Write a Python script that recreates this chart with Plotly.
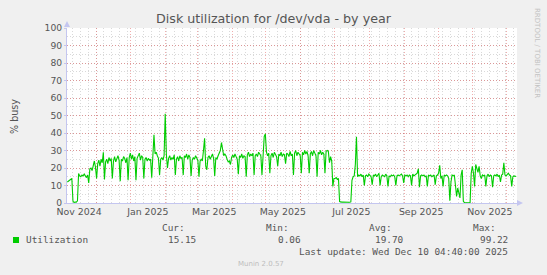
import pandas as pd
import plotly.graph_objects as go

# ---------------- data (daily averages, % busy) ----------------
range_start = "2024-11-05 04:40"
range_end = "2025-12-10 04:40"
first_day = "2024-11-05 12:00"

weeks = [
    [12.0, 12.5, 13.0, 13.5, 14.0, 1.0, 0.3],
    [0.6, 0.5, 1.2, 16.8, 15.5, 15.0, 16.0],
    [15.5, 16.5, 15.0, 14.5, 16.0, 11.5, 19.5],
    [20.0, 18.5, 21.0, 24.0, 20.5, 14.0, 22.5],
    [24.5, 21.0, 25.0, 23.0, 29.0, 13.5, 23.5],
    [25.0, 22.5, 26.0, 24.0, 25.5, 14.0, 24.0],
    [26.5, 23.5, 25.0, 27.0, 24.5, 12.5, 25.0],
    [24.0, 26.5, 25.5, 23.0, 26.0, 13.0, 26.0],
    [28.5, 25.0, 27.5, 24.0, 26.5, 13.0, 25.5],
    [27.0, 28.5, 24.5, 27.0, 26.0, 14.0, 25.0],
    [26.0, 24.0, 25.5, 24.5, 25.0, 14.5, 26.0],
    [39.0, 28.0, 29.0, 27.0, 25.5, 16.0, 25.0],
    [26.0, 24.5, 27.0, 51.0, 28.0, 20.0, 25.5],
    [27.0, 24.5, 26.0, 25.0, 27.5, 16.0, 25.0],
    [26.5, 24.0, 27.0, 25.5, 26.0, 16.0, 27.0],
    [26.0, 28.0, 25.0, 27.5, 26.0, 15.5, 24.5],
    [26.0, 25.0, 27.0, 26.0, 24.5, 15.0, 24.0],
    [25.0, 24.0, 30.0, 37.0, 21.0, 19.0, 26.0],
    [27.0, 25.0, 26.5, 28.0, 25.5, 15.5, 26.0],
    [25.0, 27.0, 28.5, 30.0, 34.5, 29.0, 27.0],
    [28.0, 27.0, 25.0, 23.5, 24.0, 22.0, 26.0],
    [27.5, 26.0, 28.0, 26.5, 25.0, 16.5, 27.0],
    [26.0, 28.0, 25.5, 27.0, 26.5, 15.0, 27.5],
    [29.0, 26.5, 28.0, 27.0, 28.5, 16.0, 27.0],
    [28.0, 26.5, 29.0, 27.5, 27.0, 16.0, 30.0],
    [38.0, 39.5, 29.0, 27.0, 28.5, 17.0, 27.0],
    [28.5, 26.0, 29.0, 27.5, 26.5, 21.0, 28.0],
    [27.0, 29.0, 26.5, 28.0, 27.5, 22.5, 28.5],
    [28.0, 26.5, 29.5, 27.0, 28.0, 16.0, 28.5],
    [30.0, 27.0, 29.0, 28.0, 27.0, 17.0, 29.0],
    [27.5, 30.0, 28.0, 29.5, 27.0, 17.0, 28.0],
    [29.5, 27.0, 30.0, 28.5, 27.0, 15.0, 29.0],
    [28.0, 30.0, 27.5, 29.0, 28.0, 17.0, 29.5],
    [30.0, 29.5, 23.0, 26.5, 24.0, 9.5, 14.0],
    [14.0, 14.5, 13.5, 14.0, 0.8, 0.4, 0.5],
    [0.6, 0.5, 0.4, 0.5, 0.6, 0.5, 0.4],
    [0.6, 13.0, 15.0, 15.5, 22.0, 37.8, 15.0],
    [16.0, 15.5, 16.5, 15.0, 16.0, 10.0, 15.5],
    [16.0, 15.0, 16.5, 15.5, 15.0, 10.5, 16.0],
    [15.5, 16.5, 15.0, 16.0, 17.0, 10.0, 15.0],
    [16.0, 15.5, 15.0, 16.5, 15.5, 9.5, 15.5],
    [15.0, 16.0, 15.5, 16.0, 15.0, 10.0, 15.5],
    [16.0, 15.5, 16.0, 16.5, 15.5, 11.5, 16.0],
    [15.5, 16.0, 15.0, 16.0, 15.5, 10.0, 16.5],
    [15.5, 16.0, 16.5, 17.0, 19.5, 9.0, 15.5],
    [16.0, 15.5, 16.0, 15.0, 15.5, 9.5, 16.0],
    [15.5, 16.0, 15.0, 15.5, 16.0, 10.5, 15.5],
    [16.0, 17.0, 21.5, 14.0, 15.5, 9.5, 16.0],
    [15.5, 16.0, 15.5, 14.0, 1.3, 12.0, 16.0],
    [15.5, 16.0, 10.0, 3.8, 8.6, 5.0, 2.9],
    [16.0, 19.0, 1.0, 0.2, 0.1, 0.06, 0.2],
    [0.1, 0.3, 17.0, 21.0, 17.0, 9.5, 22.0],
    [19.0, 17.5, 21.0, 15.5, 14.0, 16.0, 15.5],
    [16.0, 9.5, 15.5, 16.5, 15.0, 16.0, 15.5],
    [9.0, 15.5, 16.0, 15.5, 16.5, 15.0, 16.0],
    [12.0, 16.0, 16.5, 23.0, 16.0, 15.5, 16.0],
    [17.0, 16.0, 15.5, 9.5, 15.0, 15.5, 15.2],
]
last_value = [15.15]
busy = [v for w in weeks for v in w] + last_value

x_labels = ["Nov 2024", "Jan 2025", "Mar 2025", "May 2025", "Jul 2025", "Sep 2025", "Nov 2025"]
y_ticks = [0, 10, 20, 30, 40, 50, 60, 70, 80, 90, 100]

title_text = "Disk utilization for /dev/vda - by year"
series_name = "Utilization"
stat_heads = ["Cur:", "Min:", "Avg:", "Max:"]
stat_values = ["15.15", "0.06", "19.70", "99.22"]
last_update = "Last update: Wed Dec 10 04:40:00 2025"
munin_ver = "Munin 2.0.57"
rrd_credit = "RRDTOOL / TOBI OETIKER"

# ---------------- derived ----------------
dates = pd.date_range(first_day, periods=len(busy), freq="D")
month_lines = pd.date_range("2024-12-01", "2025-12-01", freq="MS")
week_lines = pd.date_range("2024-11-10", "2025-12-10", freq="7D")
label_pos = pd.date_range("2024-11-01", "2025-11-01", freq="2MS") + pd.Timedelta(days=15)

W, H = 547, 275
L, R, T, B = 67, 30, 28, 72
PW, PH = W - L - R, H - T - B


def px(x):
    return (x - L) / PW


def py(y):
    return (H - B - y) / PH


GREEN = "#00cc00"
AXIS = "#c4c6f0"
MAJOR = "rgba(220,60,60,0.42)"
MINOR = "rgba(120,120,120,0.28)"
TXT = "#555555"
MONO = "DejaVu Sans Mono"
SANS = "DejaVu Sans"

fig = go.Figure()
fig.add_trace(go.Scatter(x=dates, y=busy, mode="lines", name=series_name,
                         line=dict(color=GREEN, width=1.1), hoverinfo="x+y",
                         showlegend=False))
fig.add_trace(go.Scatter(x=[], y=[], xaxis="x2", showlegend=False, hoverinfo="skip"))

fig.update_layout(
    width=W, height=H,
    margin=dict(l=L, r=R, t=T, b=B, pad=0),
    paper_bgcolor="#f0f0f0", plot_bgcolor="#ffffff",
    showlegend=False,
    title=dict(text=title_text, x=0.5, xref="container", xanchor="center",
               y=1 - 19 / H, yref="container", yanchor="middle",
               font=dict(family=SANS, size=12.7, color=TXT)),
    xaxis=dict(type="date", range=[range_start, range_end],
               tickmode="array", tickvals=list(month_lines), showticklabels=False,
               ticks="", showgrid=True, gridcolor=MAJOR, griddash="1px,2px", gridwidth=1,
               minor=dict(tickmode="array", tickvals=list(week_lines), showgrid=True,
                          gridcolor=MINOR, griddash="1px,2px", gridwidth=1, ticks=""),
               showline=True, linecolor=AXIS, linewidth=1, zeroline=False, mirror=False),
    xaxis2=dict(type="date", overlaying="x", anchor="y", side="bottom",
                range=[range_start, range_end], tickmode="array",
                tickvals=list(label_pos), ticktext=x_labels, showgrid=False,
                showline=False, ticks="", zeroline=False, ticklabelstandoff=2,
                tickfont=dict(family=SANS, size=9.4, color=TXT)),
    yaxis=dict(range=[0, 100], tickmode="array", tickvals=y_ticks,
               tickfont=dict(family=SANS, size=9.2, color=TXT),
               ticks="outside", ticklen=2, tickcolor=AXIS,
               showgrid=True, gridcolor=MAJOR, griddash="1px,2px", gridwidth=1,
               minor=dict(dtick=5, showgrid=True, gridcolor=MINOR, griddash="1px,2px",
                          gridwidth=1, ticks=""),
               showline=True, linecolor=AXIS, linewidth=1, zeroline=False),
)

ann = []
ann.append(dict(text="% busy", x=px(14), y=py(117), textangle=-90,
                font=dict(family=SANS, size=9.6, color=TXT)))
ann.append(dict(text=rrd_credit, x=px(537), y=py(53), textangle=90,
                font=dict(family=SANS, size=7, color="#c2c2c2")))
head_right = [186, 290, 393, 497]
val_right = [197, 302, 405, 509]
for h, v, hx, vx in zip(stat_heads, stat_values, head_right, val_right):
    ann.append(dict(text=h, x=px(hx), y=py(227), xanchor="right",
                    font=dict(family=MONO, size=9.4, color=TXT)))
    ann.append(dict(text=v, x=px(vx), y=py(239.7), xanchor="right",
                    font=dict(family=MONO, size=9.4, color=TXT)))
ann.append(dict(text=series_name, x=px(25), y=py(239.7), xanchor="left",
                font=dict(family=MONO, size=9.4, color=TXT)))
ann.append(dict(text=last_update, x=px(509), y=py(251.7), xanchor="right",
                font=dict(family=MONO, size=9.4, color=TXT)))
ann.append(dict(text=munin_ver, x=px(260.5), y=py(264), xanchor="center",
                font=dict(family=SANS, size=7, color="#bdbdbd")))
for a in ann:
    a.setdefault("xanchor", "center")
    a.update(xref="paper", yref="paper", yanchor="middle", showarrow=False, borderpad=0)
fig.update_layout(annotations=ann)

shapes = [
    dict(type="rect", xref="paper", yref="paper", x0=px(13), x1=px(19), y0=py(243), y1=py(237),
         fillcolor=GREEN, line=dict(width=0)),
    dict(type="path", xref="paper", yref="paper",
         path=f"M {px(64)} {py(27)} L {px(70)} {py(27)} L {px(67)} {py(21)} Z",
         fillcolor=AXIS, line=dict(width=0)),
    dict(type="path", xref="paper", yref="paper",
         path=f"M {px(517)} {py(200)} L {px(517)} {py(206)} L {px(523)} {py(203)} Z",
         fillcolor=AXIS, line=dict(width=0)),
]
fig.update_layout(shapes=shapes)

fig.write_html("out.html")
